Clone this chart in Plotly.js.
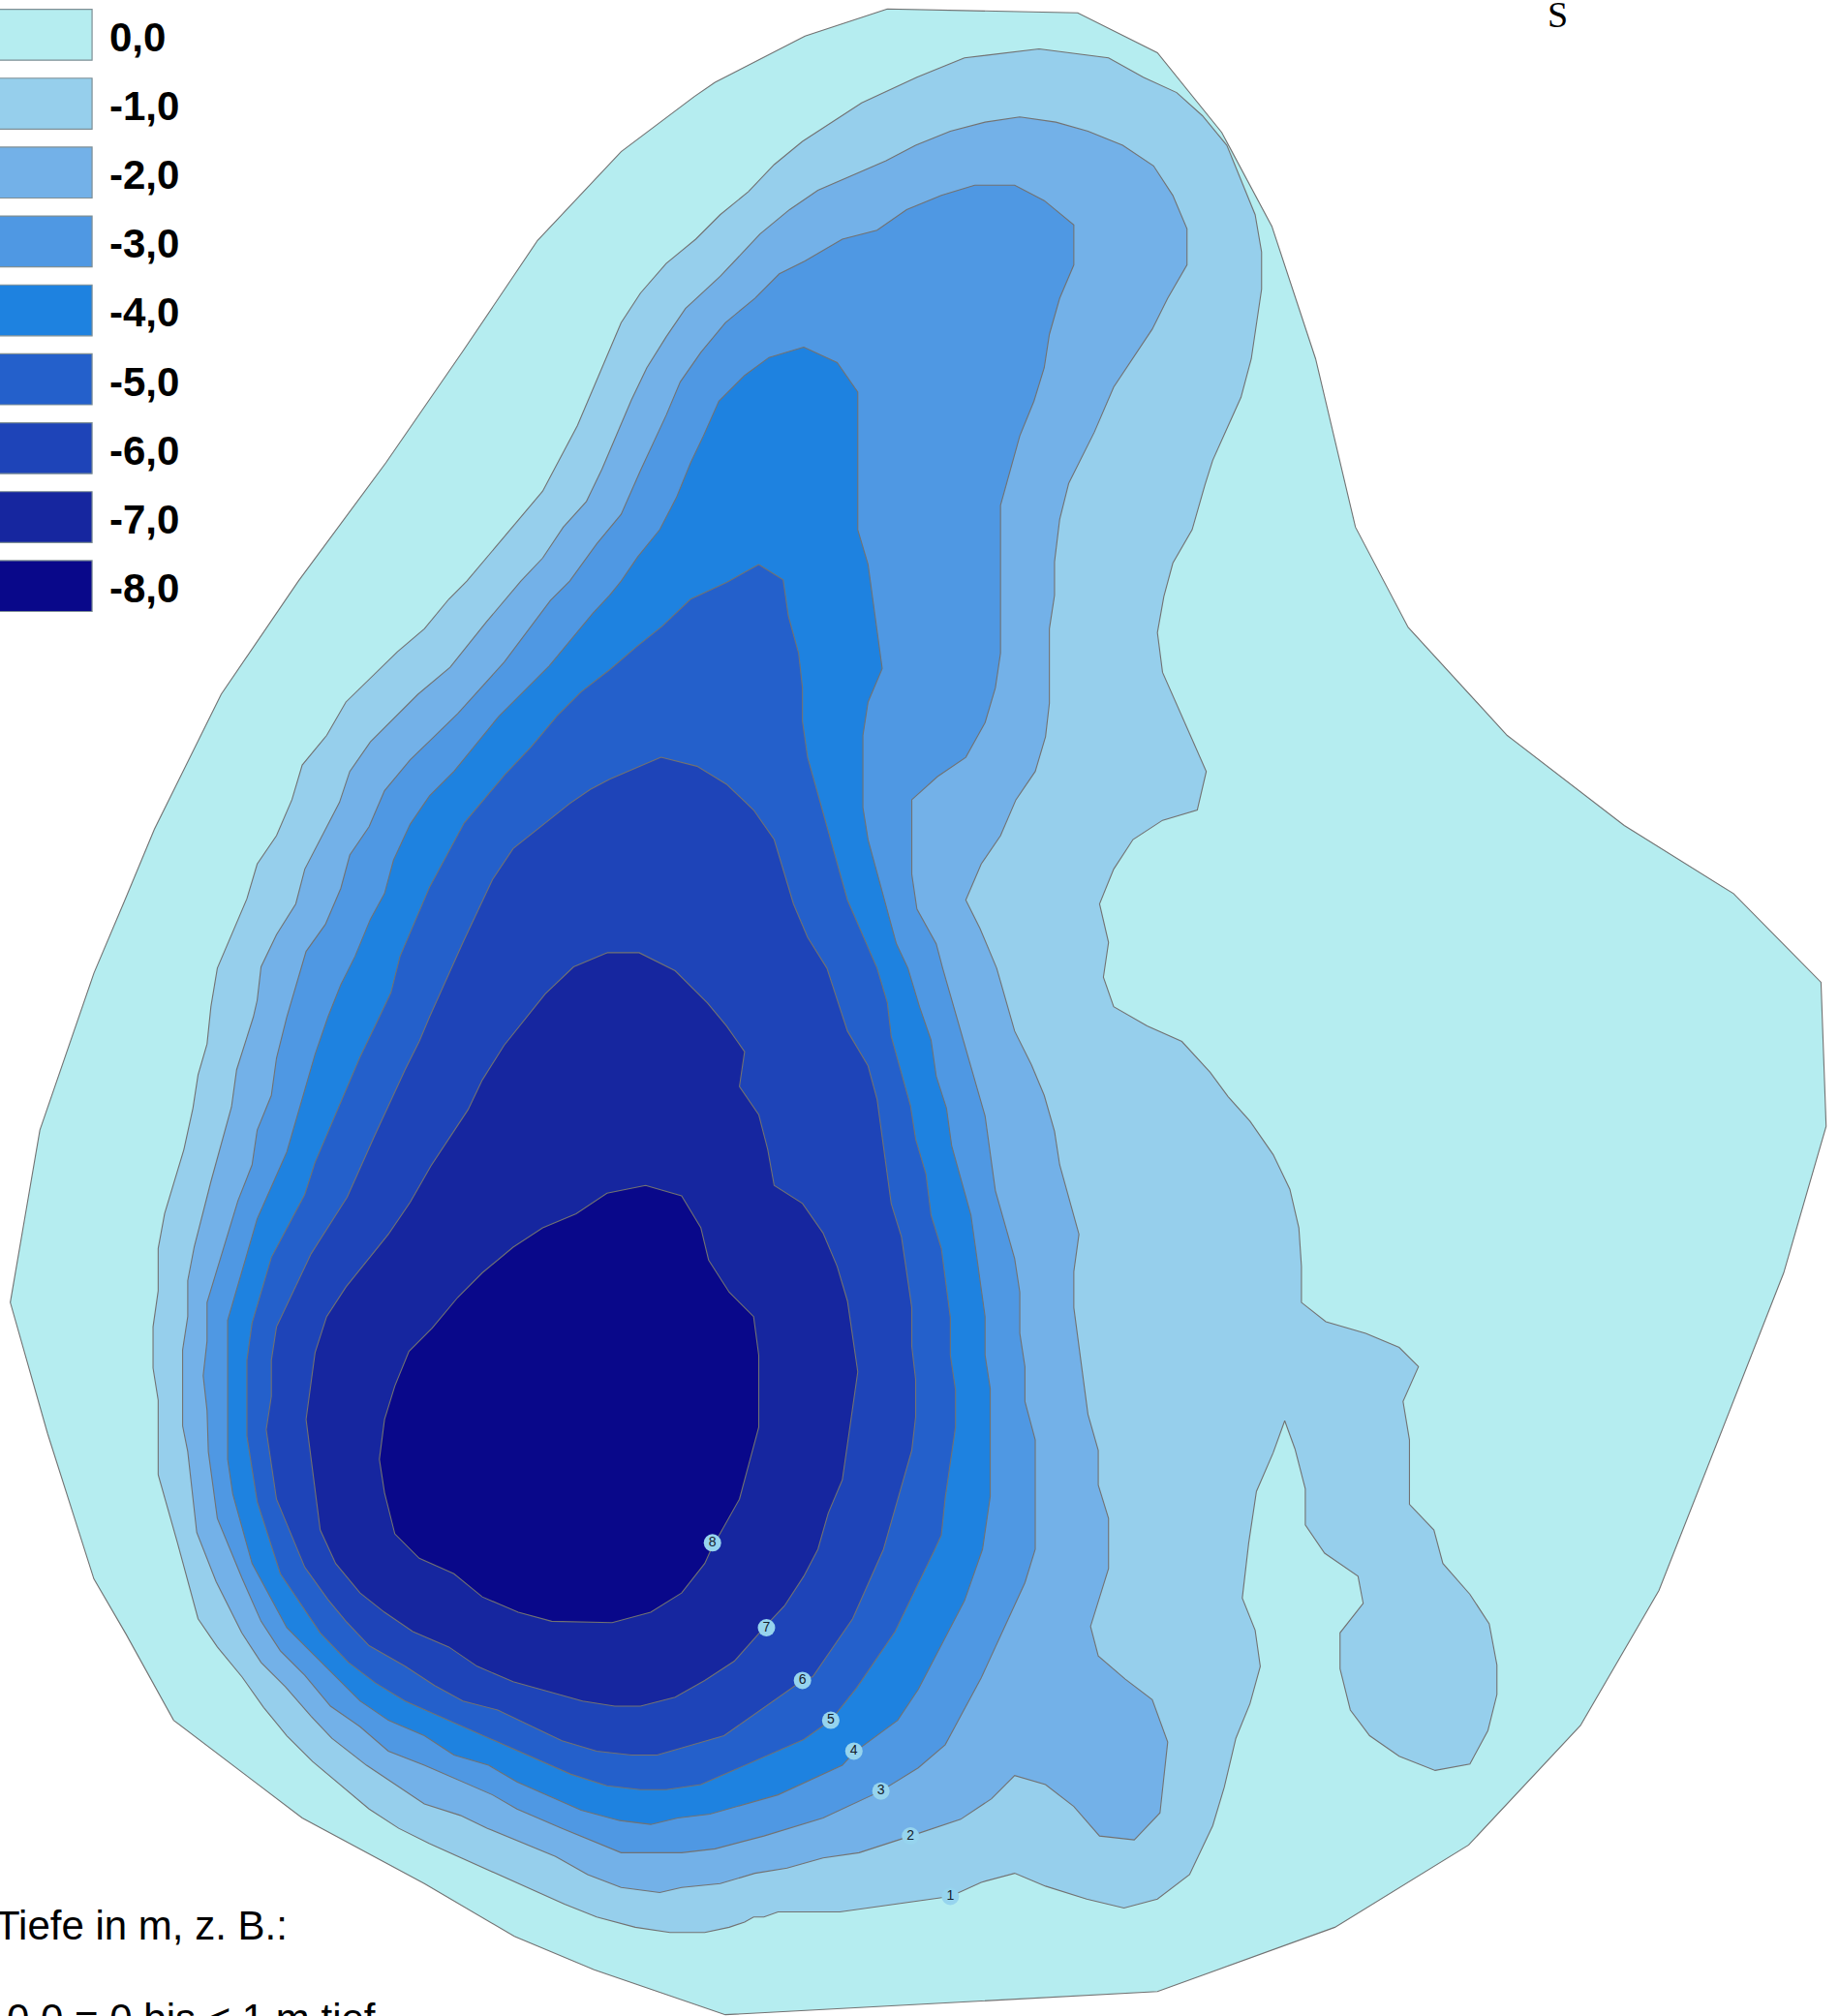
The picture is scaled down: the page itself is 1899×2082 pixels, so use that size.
<!DOCTYPE html>
<html><head><meta charset="utf-8">
<script src="https://cdn.plot.ly/plotly-3.0.1.min.js"></script>
<style>html,body{margin:0;padding:0;background:#fff;overflow:hidden}#c{width:1899px;height:2082px}</style>
</head><body><div id="c"></div>
<script>
const depthLabels=["0,0","-1,0","-2,0","-3,0","-4,0","-5,0","-6,0","-7,0","-8,0"];
const depthColors=["#B5EDF0","#96CFEC","#73B1E8","#4F98E3","#1E82E0","#2460CB","#1E44B8","#16269F","#09088A"];
const contourNumbers=["1","2","3","4","5","6","7","8"];
const contourNumberX=[739,708,685,664,646,624,596,554];
const contourNumberY=[1475,1428,1393,1362,1338,1307,1266,1200];
const depth0=[[690,7],[838,10],[900,41],[950,103],[989,176],[1023,279],[1054,410],[1095,488],[1172,572],[1263,642],[1348,695],[1416,764],[1420,876],[1387,990],[1338,1115],[1290,1237],[1229,1342],[1142,1435],[1038,1499],[900,1549],[564,1567],[462,1532],[400,1506],[330,1465],[235,1414],[135,1338],[98,1271],[73,1228],[37,1115],[8,1013],[31,879],[73,757],[98,698],[120,645],[172,540],[232,452],[300,360],[360,273],[418,187],[483,118],[540,75],[556,64],[626,28],[690,7]];
const depth1=[[750,45],[808,38],[862,45],[889,60],[915,72],[935,90],[954,113],[976,167],[981,196],[981,225],[973,279],[965,309],[943,358],[937,377],[927,412],[912,438],[905,464],[900,492],[904,523],[938,600],[931,630],[904,638],[881,653],[866,676],[855,703],[862,733],[858,760],[866,783],[892,798],[919,810],[941,834],[955,853],[972,872],[990,898],[1003,925],[1010,955],[1012,985],[1012,1013],[1031,1028],[1062,1037],[1088,1048],[1103,1063],[1091,1090],[1096,1120],[1096,1170],[1115,1190],[1122,1216],[1143,1240],[1158,1263],[1164,1295],[1164,1318],[1157,1346],[1143,1372],[1116,1377],[1088,1366],[1065,1350],[1050,1330],[1042,1298],[1042,1270],[1060,1247],[1056,1226],[1030,1208],[1015,1186],[1015,1158],[1007,1127],[999,1105],[990,1130],[977,1160],[971,1200],[966,1243],[976,1268],[980,1296],[972,1325],[961,1352],[952,1390],[943,1420],[925,1458],[900,1477],[874,1484],[845,1477],[813,1467],[789,1457],[763,1464],[739,1475],[653,1487],[605,1487],[594,1491],[586,1491],[579,1495],[567,1499],[548,1503],[521,1503],[494,1499],[464,1491],[439,1481],[334,1434],[310,1422],[287,1407],[243,1370],[223,1350],[205,1328],[188,1304],[169,1281],[154,1259],[138,1200],[123,1147],[123,1089],[119,1064],[119,1032],[123,1004],[123,971],[128,944],[143,894],[150,862],[154,836],[161,812],[164,783],[169,753],[192,699],[200,672],[215,650],[227,622],[235,595],[254,572],[269,546],[309,507],[330,489],[349,466],[363,452],[422,382],[449,331],[483,251],[498,228],[518,205],[541,186],[560,167],[582,149],[602,128],[624,110],[670,80],[713,60],[750,45]];
const depth2=[[793,91],[821,95],[846,102],[873,113],[897,129],[912,152],[923,178],[923,206],[908,232],[896,256],[866,301],[851,336],[831,376],[824,404],[820,437],[820,463],[816,489],[816,547],[813,573],[805,600],[790,622],[778,650],[763,672],[751,700],[762,722],[775,753],[789,802],[802,828],[812,852],[820,880],[824,906],[839,960],[835,989],[835,1017],[846,1100],[854,1128],[854,1155],[862,1181],[862,1220],[848,1265],[854,1288],[875,1306],[896,1322],[908,1355],[902,1410],[882,1431],[855,1428],[835,1405],[813,1388],[789,1381],[771,1399],[747,1415],[708,1428],[668,1441],[640,1445],[612,1453],[587,1457],[560,1465],[530,1468],[513,1472],[483,1468],[457,1458],[432,1444],[379,1422],[358,1412],[330,1403],[285,1373],[258,1352],[242,1335],[222,1312],[203,1293],[188,1270],[168,1230],[153,1192],[146,1129],[142,1109],[142,1050],[146,1024],[146,996],[151,970],[164,919],[180,861],[184,832],[197,791],[200,778],[203,752],[215,727],[230,703],[237,676],[249,653],[264,624],[272,600],[288,577],[325,540],[350,519],[378,484],[405,452],[422,434],[438,410],[456,390],[468,365],[491,311],[503,286],[518,262],[533,240],[560,215],[591,182],[614,163],[636,148],[689,125],[712,113],[739,102],[766,95],[793,91]];
const depth3=[[758,144],[789,144],[812,156],[835,175],[835,206],[824,232],[816,260],[812,286],[804,312],[793,339],[778,393],[778,508],[774,535],[766,562],[751,589],[729,604],[709,622],[709,680],[713,707],[728,734],[733,753],[752,819],[766,868],[774,926],[789,979],[793,1005],[793,1037],[797,1063],[797,1090],[805,1120],[805,1205],[797,1231],[763,1305],[735,1357],[714,1375],[685,1393],[640,1414],[594,1428],[556,1438],[530,1441],[483,1441],[437,1422],[402,1407],[383,1396],[330,1373],[302,1362],[280,1343],[257,1327],[237,1303],[218,1284],[203,1261],[188,1227],[169,1181],[162,1129],[161,1097],[158,1070],[161,1043],[161,1013],[185,934],[196,906],[200,879],[211,852],[215,823],[223,791],[238,740],[253,719],[265,691],[272,665],[287,643],[299,615],[319,591],[356,555],[392,515],[428,467],[443,452],[464,423],[483,400],[498,366],[518,323],[529,297],[545,274],[564,251],[587,232],[606,213],[626,203],[655,186],[682,179],[705,163],[732,152],[758,144]];
const depth4=[[625,270],[651,282],[667,305],[667,412],[675,439],[686,520],[675,546],[671,572],[671,628],[675,653],[697,734],[706,753],[715,783],[724,809],[728,837],[736,862],[740,891],[755,945],[766,1024],[766,1054],[770,1080],[770,1164],[764,1205],[750,1245],[714,1314],[698,1338],[664,1363],[655,1373],[605,1396],[552,1411],[527,1414],[506,1419],[482,1416],[452,1408],[402,1386],[380,1373],[353,1365],[330,1350],[302,1338],[280,1323],[243,1286],[223,1266],[196,1216],[181,1162],[177,1135],[177,1027],[200,948],[223,896],[245,820],[255,791],[265,766],[276,744],[288,715],[299,695],[306,669],[319,641],[334,619],[353,600],[388,557],[427,518],[461,477],[474,463],[483,452],[496,433],[513,412],[526,387],[537,360],[547,339],[559,312],[579,292],[598,278],[625,270]];
const depth5=[[590,439],[609,451],[613,479],[621,508],[624,535],[624,561],[628,589],[659,700],[682,753],[690,780],[693,806],[708,860],[712,886],[720,913],[724,945],[732,971],[739,1025],[739,1054],[743,1081],[743,1110],[735,1165],[732,1194],[727,1205],[709,1242],[696,1269],[666,1313],[646,1338],[625,1353],[545,1388],[518,1392],[498,1392],[472,1389],[444,1380],[369,1347],[315,1323],[292,1309],[271,1293],[249,1270],[218,1224],[200,1168],[192,1117],[192,1058],[196,1029],[211,978],[237,929],[245,904],[280,822],[295,791],[304,772],[311,744],[334,690],[361,640],[393,602],[413,581],[433,557],[452,538],[474,521],[495,503],[515,487],[537,466],[565,453],[590,439]];
const depth6=[[514,589],[542,596],[565,610],[586,630],[602,653],[617,703],[628,729],[643,753],[659,802],[675,829],[682,855],[693,936],[701,962],[709,1017],[709,1047],[712,1073],[712,1102],[709,1128],[687,1205],[663,1259],[632,1304],[624,1307],[563,1350],[511,1365],[491,1365],[464,1362],[437,1354],[412,1342],[387,1330],[360,1323],[338,1311],[315,1296],[287,1280],[269,1261],[255,1244],[237,1219],[215,1166],[207,1112],[211,1086],[211,1058],[215,1032],[242,975],[270,931],[291,884],[315,832],[326,810],[334,791],[360,733],[383,684],[399,660],[443,625],[459,614],[474,606],[514,589]];
const depth7=[[472,741],[497,741],[525,755],[550,780],[565,798],[579,818],[575,845],[590,867],[597,894],[602,922],[624,936],[640,959],[651,985],[659,1012],[667,1067],[655,1151],[644,1177],[636,1205],[625,1226],[610,1249],[595,1265],[571,1292],[548,1307],[525,1320],[498,1327],[478,1327],[453,1323],[399,1308],[371,1296],[349,1281],[321,1269],[299,1254],[280,1239],[261,1216],[249,1190],[241,1129],[238,1104],[245,1052],[254,1024],[269,1001],[302,960],[319,935],[335,907],[364,863],[375,840],[392,813],[424,773],[446,752],[472,741]];
const depth8=[[502,922],[530,930],[545,955],[551,980],[567,1005],[586,1024],[590,1054],[590,1110],[575,1166],[565,1184],[553,1205],[548,1216],[530,1239],[506,1254],[476,1262],[429,1261],[403,1254],[375,1242],[353,1224],[326,1212],[307,1193],[299,1161],[295,1135],[299,1104],[307,1078],[318,1051],[336,1033],[356,1009],[375,990],[399,970],[422,955],[448,944],[472,928],[502,922]];
const contours=[depth0,depth1,depth2,depth3,depth4,depth5,depth6,depth7,depth8];
const lineColor="#727272";
const traces=contours.map((c,i)=>({type:"scatter",mode:"lines",x:c.map(p=>p[0]),y:c.map(p=>p[1]),fill:"toself",fillcolor:depthColors[i],line:{color:lineColor,width:1.1,shape:"linear"},name:depthLabels[i],hoverinfo:"skip",showlegend:false}));
traces.push({type:"scatter",mode:"markers+text",x:contourNumberX,y:contourNumberY,text:contourNumbers,textposition:"middle center",textfont:{family:"Liberation Sans, Arial, sans-serif",size:14,color:"#14202c"},marker:{size:18,color:"#96D4EE",line:{width:0}},hoverinfo:"skip",showlegend:false,cliponaxis:false});
const shapes=depthColors.map((col,i)=>({type:"rect",xref:"x",yref:"y",x0:-6,x1:71.6,y0:7.2+i*53.6,y1:46.8+i*53.6,fillcolor:col,line:{color:"#7f8f95",width:1.2}}));
const annotations=depthLabels.map((t,i)=>({xref:"x",yref:"y",x:85,xshift:-2,y:29+i*53.55,xanchor:"left",yanchor:"middle",text:"<b>"+t+"</b>",showarrow:false,font:{family:"Liberation Sans, Arial, sans-serif",size:42,color:"#000"}}));
annotations.push({xref:"x",yref:"y",x:0,xshift:-7,y:1478,xanchor:"left",yanchor:"top",text:"Tiefe in m, z. B.:",showarrow:false,font:{family:"Liberation Sans, Arial, sans-serif",size:42,color:"#000"}});
annotations.push({xref:"x",yref:"y",x:4,y:1551,xanchor:"left",yanchor:"top",text:"0,0 = 0 bis &lt; 1 m tief",showarrow:false,font:{family:"Liberation Sans, Arial, sans-serif",size:42,color:"#000"}});
annotations.push({xref:"x",yref:"y",x:1211,y:11,xanchor:"center",yanchor:"middle",text:"S",showarrow:false,font:{family:"Liberation Serif, Times New Roman, serif",size:38,color:"#000"}});
const layout={width:1899,height:2082,margin:{l:0,r:0,t:0,b:0},paper_bgcolor:"#fff",plot_bgcolor:"#fff",showlegend:false,
 xaxis:{range:[0,1430],visible:false,fixedrange:true},yaxis:{range:[1568,0],visible:false,fixedrange:true},shapes,annotations};
Plotly.newPlot("c",traces,layout,{displayModeBar:false,staticPlot:true});
</script></body></html>
